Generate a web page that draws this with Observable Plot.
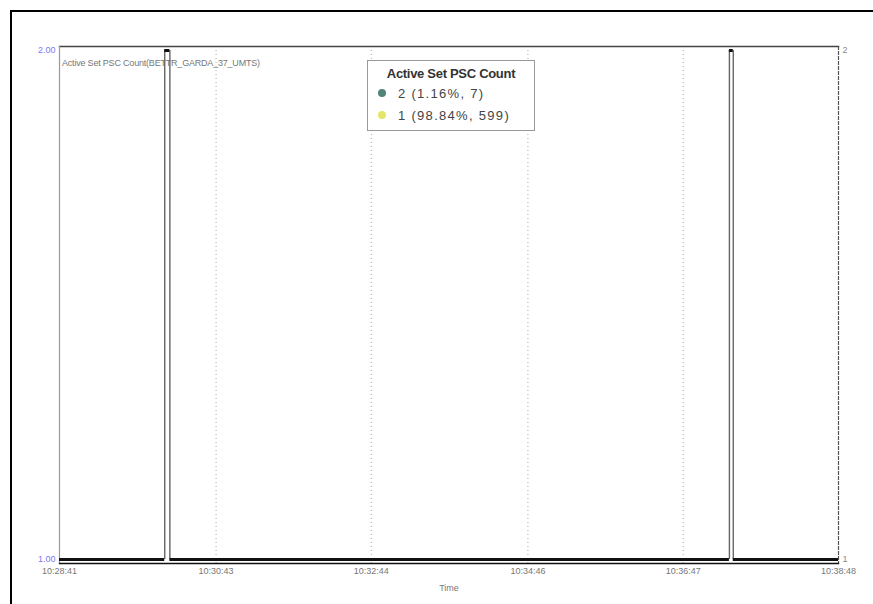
<!DOCTYPE html>
<html>
<head>
<meta charset="utf-8">
<script src="https://cdn.jsdelivr.net/npm/d3@7"></script>
<script src="https://cdn.jsdelivr.net/npm/@observablehq/plot@0.6"></script>
<style>
  html, body { margin: 0; padding: 0; background: #fff; }
  #wrap { position: relative; width: 873px; height: 604px; overflow: hidden; font-family: "Liberation Sans", Arial, sans-serif; }
  #border { position: absolute; left: 10px; top: 10px; width: 900px; height: 700px; border-left: 2.5px solid #000; border-top: 2.5px solid #000; }
  #series { position: absolute; left: 62px; top: 58px; font-size: 9px; color: #777; white-space: nowrap; letter-spacing: -0.2px; }
  #legend { position: absolute; left: 367px; top: 60px; width: 168px; height: 71px; border: 1px solid #999; background: #fff; box-sizing: border-box; }
  #legend .title { text-align: center; font-size: 13px; font-weight: bold; color: #333; margin-top: 5px; letter-spacing: -0.3px; }
  #legend .row { position: absolute; left: 10px; font-size: 13px; color: #444; letter-spacing: 1.3px; white-space: nowrap; }
  #legend .dot { display: inline-block; width: 8px; height: 8px; border-radius: 50%; margin-right: 12px; vertical-align: 1px; }
</style>
</head>
<body>
<div id="wrap">
  <div id="chart"></div>
  <div id="border"></div>
  <div id="series"></div>
  <div id="legend"></div>
</div>
<script>
// ---- data ----
const seriesName = "Active Set PSC Count(BETTR_GARDA_37_UMTS)";
const legendTitle = "Active Set PSC Count";
const legendLabels = ["2 (1.16%, 7)", "1 (98.84%, 599)"];
const legendColors = ["#4f8579", "#e4e66a"];
// change points of the PSC count (step series)
const changeTimes = ["10:28:41", "10:30:03", "10:30:07", "10:37:23", "10:37:26", "10:38:48"];
const changeValues = [1, 2, 1, 2, 1];
const xTickLabels = ["10:28:41", "10:30:43", "10:32:44", "10:34:46", "10:36:47", "10:38:48"];
const yTicks = [1, 2];
const xLabel = "Time";

const parseT = d3.timeParse("%H:%M:%S");
const segments = changeValues.map((v, i) => ({
  start: parseT(changeTimes[i]),
  end: parseT(changeTimes[i + 1]),
  value: v
}));
const transitions = changeTimes.slice(1, -1).map(t => ({time: parseT(t)}));
const xTicks = xTickLabels.map(parseT);
const gridTicks = xTicks.slice(1, -1);

const chart = Plot.plot({
  width: 873,
  height: 604,
  marginLeft: 59,
  marginRight: 35,
  marginTop: 46,
  marginBottom: 41,
  style: {fontFamily: "'Liberation Sans', Arial, sans-serif", fontSize: "9px", background: "transparent"},
  x: {type: "time", domain: [xTicks[0], xTicks[xTicks.length - 1]]},
  y: {domain: [1, 2], insetTop: 4, insetBottom: 4}, 
  marks: [
    Plot.ruleX(gridTicks, {stroke: "#aaa", strokeDasharray: "1,3", strokeWidth: 1}),
    // frame
    Plot.frame({anchor: "top", stroke: "#444", strokeWidth: 1.5}),
    Plot.frame({anchor: "left", stroke: "#999", strokeWidth: 1.2}),
    Plot.frame({anchor: "right", stroke: "#555", strokeWidth: 1.2, strokeDasharray: "3,2"}),
    Plot.frame({anchor: "bottom", stroke: "#111", strokeWidth: 1.3}),
    // data
    Plot.ruleX(transitions, {x: "time", y1: 1, y2: 2, stroke: "#666", strokeWidth: 1.4}),
    Plot.ruleY(segments, {y: "value", x1: "start", x2: "end", stroke: "#111", strokeWidth: 3}),
    // axes
    Plot.axisX({ticks: xTicks, tickFormat: d3.timeFormat("%H:%M:%S"), tickSize: 0, tickPadding: 4, color: "#777", label: null, fontSize: 9}),
    Plot.text([xLabel], {frameAnchor: "bottom", dy: 27, text: d => d, fill: "#777", fontSize: 9}),
    Plot.axisY({ticks: yTicks, tickFormat: d3.format(".2f"), tickSize: 0, tickPadding: 4, color: "#7a7af5", label: null, anchor: "left", fontSize: 9}),
    Plot.axisY({ticks: yTicks, tickFormat: d3.format("d"), tickSize: 0, tickPadding: 4, color: "#888", label: null, anchor: "right", fontSize: 9})
  ]
});
document.getElementById("chart").appendChild(chart);

document.getElementById("series").textContent = seriesName;
const lg = document.getElementById("legend");
const t = document.createElement("div");
t.className = "title";
t.textContent = legendTitle;
lg.appendChild(t);
legendLabels.forEach((lab, i) => {
  const r = document.createElement("div");
  r.className = "row";
  r.style.top = (25 + i * 22) + "px";
  const dot = document.createElement("span");
  dot.className = "dot";
  dot.style.background = legendColors[i];
  r.appendChild(dot);
  r.appendChild(document.createTextNode(lab));
  lg.appendChild(r);
});
</script>
</body>
</html>
